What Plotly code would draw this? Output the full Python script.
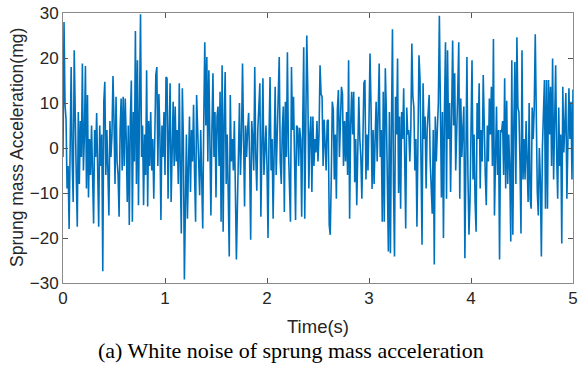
import plotly.graph_objects as go

dt = 0.01
accel = [
    -2, 28, 9.6, 6.3, -9, -4, -18, 2, 18, -3,
    -12, 21.7, 4, -6, -17.5, 8, -8, 6, -2, 18.8,
    -5, 3, 18.2, -9, 11.8, -11, 2, -6, 5, -3,
    -16.8, 4, -2, 7.8, -8, -17.5, 5, -4, 3, -27.4,
    10.3, 14.7, -6, 4, -5, -15, 6, -2, 3, 16,
    6, -8, 11.4, -3, -6, -15.3, 4, 11, -5, 11.4,
    -4, 11, 2, -12, 5, -17.1, 6, 15, -16.4, 8,
    -3, 26, -8, 19.5, -12.7, 4, 29.7, -2, 5, -12.7,
    3, -6, 17.3, -13, 6, -4, 8, -5, 2, -11.3,
    6, 16.2, 18, -4, 12, 3, -16, 5, -2, 8,
    -6, 15.8, 15.5, -11.3, 3, 14.4, -12, 2, 10.3, -4,
    9.2, -3, 4, -8, 14.4, -5, -19, 13.3, 2, -29.2,
    -4, 3, -15.7, 2, 7, -9.8, 4, -3, 9.6, -6,
    -16.4, 11.8, 2, -2, -10.5, 4, -5, -17.9, 6, 23.5,
    5, 20.2, -3, 17.3, 2, -15, 4, 16.6, -2, 8,
    -11, 7, 9.2, -4, 12.5, -16.4, 18.4, -18.6, 6, 16.9,
    -8, 3, -10, -24.1, 11.8, -3, 2, -5, 6, -10,
    -24.8, -12.7, 4, 10, -6, 2, 18.8, 0, -13, 5,
    -2, 4, 7.8, -3, -20.4, 6, 2, -5, 18, -2,
    -9.5, 4, 8, 14.4, -15.3, 3, 15.5, -6, 0, 5,
    -4, -20, 3, 15.8, -5, 2, -15.7, 4, 13.6, -6,
    5, 16.2, 20.2, -3, -8, 4, 9.2, -14.2, 10.3, -2,
    21.3, 0, -6, -16.4, 18, 4, 11.4, -3, -16, 5,
    4.5, -4, 4.5, 2, -15.3, 5, 22.4, -15.7, 3, 25,
    12.9, -9, 3, 7, -9.8, 7, -4, 2, -1, 6,
    -3, 3, 18.4, 12, 11.4, -4, 6.3, 2, -5, 6,
    6.3, -17.1, -19.3, -7, 10.3, 8.5, -7, 3, -11.3, 8.5,
    12.9, -2, 4, 13.6, 12, -4, 6, -3, 8, -6,
    19.5, -15.7, 5, 12.5, 3, 12.5, -7.6, 2, -12.7, 4,
    11.4, 2, -2, -11.3, 6, 14.4, 15.1, -7, 3, -5,
    6, 21, 9, -9.1, 4, -8, 2, 10.3, -3, 5,
    18.8, -2, 4, -16.4, 12.5, -16.4, 17.7, 8, -5, -23,
    8, -23.4, 4, 26.4, -8, -24.1, 11.4, 3, 19.9, -10,
    7, -13.5, 8, 2, 13.3, -5, -17.9, 9, 3, 4,
    -3, 4, 23.2, 11.4, 9, -5, 2, -17.5, 4, 20.6,
    15.5, -8, -21.5, 14.4, 2, 7, -9, 4, 9.8, 11.8,
    -3, -10.5, -14.6, 4, -25.9, 7, -3, 4, 10, 29.4,
    3, -11, 8, -20, 8.5, 23.5, -11.3, 21.7, 2, 10,
    -9.8, 4, 23.9, 5, 16.6, -5, 2, 12.2, 23.5, -11.3,
    11, -2, 4, 9.2, -24.5, 5, 20.2, -6, -19.3, -12,
    5, 19.5, -7, 3, -12, -18.6, 10, 2, 14.4, -9,
    4, -3, 16.2, 2, -6, -12.7, 5, -3, 11, 3,
    13.6, -4, 24.2, -15, 3, 9.2, -6, 4, -24.8, 4,
    3.5, 6, -6, 15.5, -9, 10.5, -8, 3, -5, -20.8,
    19.5, -19.3, 5, 19.1, -8, 24.6, 9, 8, -3, -19,
    21.7, -7, 2, -7, 6, -2, -12, 10, -11.3, -13.5,
    9, 2, 9, 25.3, 3, -9.8, -15, 0, -7, -24.1,
    0, 7, 15.1, -13.5, 15.1, -13.5, 15.1, 3, 13.6, -4,
    19.9, -7, 4, 18.4, -2, -11.3, 9, -4, 3, -21.2,
    13.6, -1, 5, 12.2, -11.3, 6, 13.3, 2, 10.3, -7,
    13,
]
time = [i * dt for i in range(len(accel))]

x_ticks = [0, 1, 2, 3, 4, 5]
y_ticks = [-30, -20, -10, 0, 10, 20, 30]

x_title = "Time(s)"
y_title = "Sprung mass Acceleration(mg)"
caption = "(a) White noise of sprung mass acceleration"

fig = go.Figure()
fig.add_trace(go.Scatter(
    x=time, y=accel, mode="lines",
    line=dict(color="#0072BD", width=1.6),
    showlegend=False,
))

axis_common = dict(
    showline=True, linecolor="#8a8a8a", linewidth=1, mirror="ticks",
    ticks="inside", ticklen=5, tickcolor="#555555", tickwidth=1,
    showgrid=False, zeroline=False,
    tickfont=dict(family="Liberation Sans, Arial", size=17, color="#262626"),
)

fig.update_xaxes(range=[0, 5], tickvals=x_ticks, **axis_common)
fig.update_yaxes(range=[-30, 30], tickvals=y_ticks, **axis_common)

fig.update_layout(
    width=582, height=372,
    margin=dict(l=63, r=4, t=10, b=89),
    paper_bgcolor="white", plot_bgcolor="white",
    annotations=[
        dict(text=x_title, xref="paper", yref="paper", x=0.5, y=0,
             yanchor="middle", xanchor="center", yshift=-43, showarrow=False,
             font=dict(family="Liberation Sans, Arial", size=18.5, color="#262626")),
        dict(text=y_title, xref="paper", yref="paper", x=0, y=0.5,
             xanchor="center", yanchor="middle", xshift=-46, textangle=-90,
             showarrow=False,
             font=dict(family="Liberation Sans, Arial", size=17.5, color="#262626")),
        dict(text=caption, xref="paper", yref="paper", x=0.447, y=0,
             xanchor="center", yanchor="middle", yshift=-67, showarrow=False,
             font=dict(family="Liberation Serif, Times New Roman", size=22, color="black")),
    ],
)

fig.write_html("out.html")
